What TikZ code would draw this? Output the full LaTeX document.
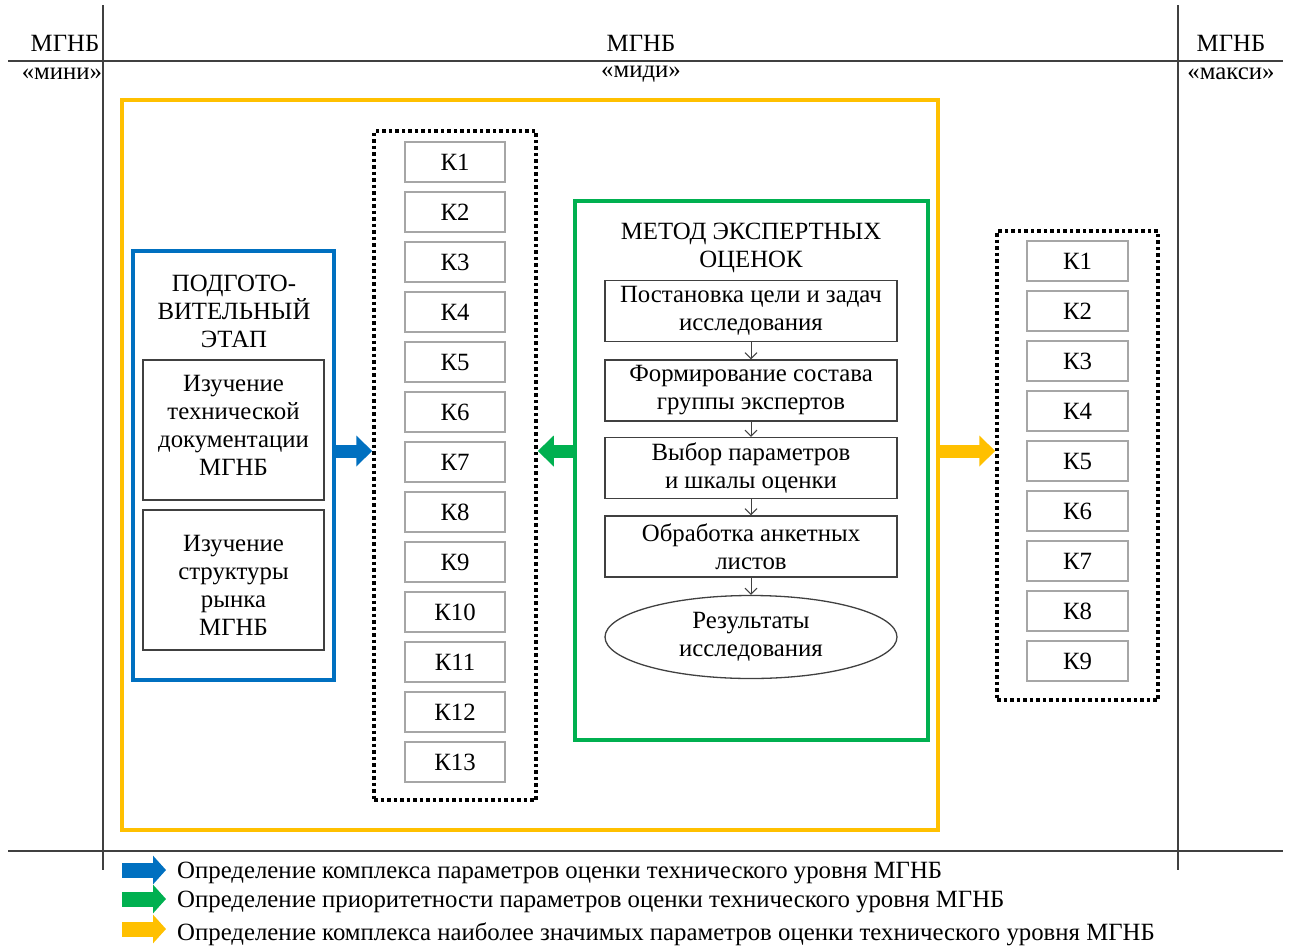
\documentclass[tikz,border=0pt]{standalone}
\usepackage{fontspec}
\setmainfont{Liberation Serif}
\usetikzlibrary{arrows.meta,shapes.geometric}
\definecolor{cyellow}{HTML}{FFC000}
\definecolor{cblue}{HTML}{0070C0}
\definecolor{cgreen}{HTML}{00B050}
\definecolor{rulegray}{HTML}{404040}
\definecolor{kgray}{HTML}{A6A6A6}

\begin{document}
\begin{tikzpicture}[x=1pt,y=-1pt,
  txtfont/.style={font=\fontsize{24.8}{28}\selectfont},
  txt/.style={txtfont, inner sep=0pt, align=center},
  rule/.style={draw=rulegray, line width=1.6pt},
  kbox/.style={draw=kgray, line width=1.3pt, minimum width=100pt, minimum height=40pt,
    inner sep=0pt, txtfont},
  klist/.style={draw=black, line width=3.5pt, dash pattern=on 3.5pt off 3pt, inner sep=0pt},
  stepbox/.style={draw=rulegray, line width=1.3pt, minimum width=292pt, minimum height=61pt,
    inner sep=0pt, align=center, txtfont},
  studybox/.style={draw=rulegray, line width=1.3pt, minimum width=181pt, minimum height=140pt,
    inner sep=0pt},
  frame/.style={line width=3.2pt, inner sep=0pt},
  flow/.style={draw=rulegray, line width=1pt, -{Straight Barb[length=6pt,width=12pt]}},
  bigarrow/.style={line width=13pt, -{Triangle[length=16pt,width=30pt]}},
  legarrow/.style={line width=15pt, -{Triangle[length=13pt,width=28pt]}},
]
\useasboundingbox (0,0) rectangle (1293,948);

% header and frame rules
\coordinate (htl) at (8,61);
\coordinate (htr) at (1283,61);
\coordinate (hbl) at (8,851);
\coordinate (hbr) at (1283,851);
\coordinate (vlt) at (103,5);
\coordinate (vlb) at (103,870);
\coordinate (vrt) at (1178,5);
\coordinate (vrb) at (1178,870);
\draw[rule] (htl) -- (htr);
\draw[rule] (hbl) -- (hbr);
\draw[rule] (vlt) -- (vlb);
\draw[rule] (vrt) -- (vrb);

% column headings
\node[txt] (hmini)  at (65,43)   {МГНБ};
\node[txt] (smini)  at (62,74)   {«мини»};
\node[txt] (hmidi)  at (641,43)  {МГНБ};
\node[txt] (smidi)  at (641,74)  {«миди»};
\node[txt] (hmaxi)  at (1231,43) {МГНБ};
\node[txt] (smaxi)  at (1231,74) {«макси»};

% main frames
\node[frame, draw=cyellow, minimum width=816pt, minimum height=730pt] (outer) at (530,465) {};
\node[frame, draw=cblue, minimum width=201pt, minimum height=429pt] (prep) at (233.5,465.5) {};
\node[frame, draw=cgreen, minimum width=353pt, minimum height=539pt] (expert) at (751.5,470.5) {};

% preparatory stage
\node[txt] (preptitle) at (234,311) {ПОДГОТО-\\ВИТЕЛЬНЫЙ\\ЭТАП};
\node[studybox] (doc) at (233.5,430) {};
\node[studybox] (mkt) at (233.5,580) {};
\node[txt] (doctext) at (233.5,425) {Изучение\\технической\\документации\\МГНБ};
\node[txt] (mkttext) at (233.5,585) {Изучение\\структуры\\рынка\\МГНБ};

% full list of criteria
\node[klist, minimum width=162pt, minimum height=669pt] (klistL) at (455,465.5) {};
\foreach \i in {1,...,13}
  \node[kbox] (kL\i) at (455,{162+50*(\i-1)}) {К\i};

% expert method
\node[txt] (exptitle) at (751,248) {МЕТОД ЭКСПЕРТНЫХ\\ОЦЕНОК};
\node[stepbox] (s1) at (751,311)   {Постановка цели и задач\\исследования};
\node[stepbox] (s2) at (751,390.5) {Формирование состава\\группы экспертов};
\node[stepbox] (s3) at (751,468)   {Выбор параметров\\и шкалы оценки};
\node[stepbox] (s4) at (751,546.5) {Обработка анкетных\\листов};
\node[ellipse, draw=rulegray, line width=1.3pt, minimum width=292pt, minimum height=83pt,
  inner sep=0pt, align=center, txtfont] (res) at (751,637)
  {Результаты\\исследования};
\draw[flow] (s1) -- (s2);
\draw[flow] (s2) -- (s3);
\draw[flow] (s3) -- (s4);
\draw[flow] (s4) -- (res);

% reduced list of criteria
\node[klist, minimum width=161pt, minimum height=469pt] (klistR) at (1077.5,465.5) {};
\foreach \i in {1,...,9}
  \node[kbox, minimum width=101pt] (kR\i) at (1077.5,{261+50*(\i-1)}) {К\i};

% block arrows between stages
\coordinate (arrowrow) at (0,451);
\draw[bigarrow, cblue]   (prep.east |- arrowrow)   -- (klistL.west |- arrowrow);
\draw[bigarrow, cgreen]  (expert.west |- arrowrow) -- (klistL.east |- arrowrow);
\draw[bigarrow, cyellow] (outer.east |- arrowrow)  -- (klistR.west |- arrowrow);

% legend
\node[txt, anchor=west] (lt1) at (177,873) {Определение комплекса параметров оценки технического уровня МГНБ};
\node[txt, anchor=west] (lt2) at (177,902) {Определение приоритетности параметров оценки технического уровня МГНБ};
\node[txt, anchor=west] (lt3) at (177,934) {Определение комплекса наиболее значимых параметров оценки технического уровня МГНБ};
\coordinate (la1) at (122,870);
\coordinate (la2) at (122,899);
\coordinate (la3) at (122,929);
\draw[legarrow, cblue,   shorten >=11pt] (la1) -- (lt1.west |- la1);
\draw[legarrow, cgreen,  shorten >=11pt] (la2) -- (lt2.west |- la2);
\draw[legarrow, cyellow, shorten >=11pt] (la3) -- (lt3.west |- la3);
\end{tikzpicture}
\end{document}
